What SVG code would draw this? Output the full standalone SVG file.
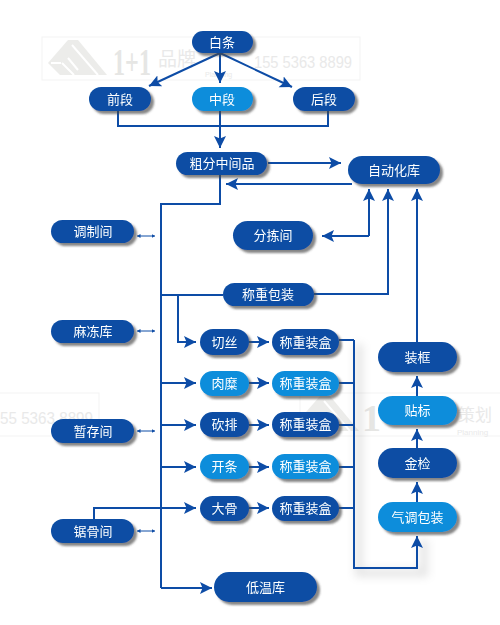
<svg xmlns="http://www.w3.org/2000/svg" width="500" height="625" viewBox="0 0 500 625">
<style>
.n{fill:#0a4ea4}
.l{fill:#0a8ddb}
.t{fill:#fff;font-family:"Noto Sans CJK SC","Liberation Sans",sans-serif;font-size:13px;text-anchor:middle;dominant-baseline:central;transform:translateY(-1px)}
.c{fill:none;stroke:#0d4ca6;stroke-width:2}
.a{marker-end:url(#arr)}
.s{fill:none;stroke:#0d4ca6;stroke-width:1;marker-start:url(#sm);marker-end:url(#sm)}
.wb{fill:none;stroke:#f3f3f3;stroke-width:1}
.wl{fill:#ececea}
.wk{fill:none;stroke:#fff;stroke-width:2}
.wt{fill:#e9e9e9;font-family:"Liberation Sans",sans-serif}
.wc{fill:#e9e9e9;font-family:"Noto Sans CJK SC",sans-serif}
.ws{fill:#e6e6e4;font-family:"Liberation Serif",serif;font-weight:bold}
</style>
<defs>
<marker id="arr" markerUnits="userSpaceOnUse" markerWidth="14" markerHeight="14" refX="12" refY="6" orient="auto">
<path d="M0 0L12 6L0 12L2.5 6Z" fill="#0d4ca6"/>
</marker>
<marker id="sm" markerUnits="userSpaceOnUse" markerWidth="5" markerHeight="5" refX="3.5" refY="2" orient="auto-start-reverse">
<path d="M0 0L3.5 2L0 4Z" fill="#0d4ca6"/>
</marker>
<filter id="sh" x="-20%" y="-30%" width="145%" height="175%">
<feDropShadow dx="3" dy="3" stdDeviation="1.1" flood-color="#444" flood-opacity=".65"/>
</filter>
<filter id="gl" filterUnits="userSpaceOnUse" x="330" y="320" width="130" height="280"><feGaussianBlur stdDeviation="4"/></filter>
<g id="logo">
<path class="wl" d="M0 23L20 0H30L59 35H12Z"/>
<path class="wk" d="M14 23L26 35M24 5L50 35M20 18L30 30M3 23H13"/>
</g>
</defs>
<g id="watermark">
<rect class="wb" x="42" y="37" width="318" height="43"/>
<use href="#logo" x="48" y="40"/>
<text class="ws" x="113" y="75" font-size="38" textLength="38" lengthAdjust="spacingAndGlyphs">1+1</text>
<text class="wc" x="158" y="66" font-size="19">品牌</text>
<text class="wt" x="205" y="77" font-size="7">Planning</text>
<text class="wt" x="254" y="68" font-size="16" textLength="98" lengthAdjust="spacingAndGlyphs">155 5363 8899</text>
<rect class="wb" x="-20" y="393" width="119" height="43"/>
<text class="wt" x="0" y="424" font-size="16" textLength="93" lengthAdjust="spacingAndGlyphs">55 5363 8899</text>
<rect class="wb" x="300" y="393" width="218" height="43"/>
<use href="#logo" x="300" y="396"/>
<text class="ws" x="362" y="431" font-size="38">1</text>
<text class="wc" x="458" y="421" font-size="17">策划</text>
<text class="wt" x="457" y="435" font-size="8">Planning</text>
</g>
<path d="M359 344V573H424V540" fill="none" stroke="#000" stroke-opacity=".1" stroke-width="8" filter="url(#gl)"/>
<g id="connectors">
<path class="c a" d="M220 53L149 86"/>
<path class="c a" d="M220 53V83"/>
<path class="c a" d="M220 53L292 87"/>
<path class="c" d="M118 111V126H328V111"/>
<path class="c a" d="M220 111V148"/>
<path class="c a" d="M268 163H341"/>
<path class="c a" d="M352 184H226"/>
<path class="c" d="M220 175V204H161V588"/>
<path class="c a" d="M161 588H212"/>
<path class="s" d="M137 236H155"/>
<path class="s" d="M137 331H155"/>
<path class="s" d="M137 431H155"/>
<path class="s" d="M137 531H155"/>
<path class="c" d="M161 295H223"/>
<path class="c a" d="M178 295V342H196"/>
<path class="c a" d="M161 383H196"/>
<path class="c a" d="M161 425H196"/>
<path class="c a" d="M161 467H196"/>
<path class="c a" d="M94 519V508H196"/>
<path class="c a" d="M249 342H269"/>
<path class="c a" d="M249 383H269"/>
<path class="c a" d="M249 425H269"/>
<path class="c a" d="M249 467H269"/>
<path class="c a" d="M249 508H269"/>
<path class="c" d="M339 340H354"/>
<path class="c" d="M339 383H354"/>
<path class="c" d="M339 425H354"/>
<path class="c" d="M339 467H354"/>
<path class="c" d="M339 508H354"/>
<path class="c a" d="M354 340V568H417V536"/>
<path class="c a" d="M314 294H388V189"/>
<path class="c a" d="M369 236H322"/>
<path class="c a" d="M369 236V189"/>
<path class="c a" d="M417 342V189"/>
<path class="c a" d="M417 502V482"/>
<path class="c a" d="M417 448V429"/>
<path class="c a" d="M417 396V376"/>
</g>
<g id="n-baitiao" filter="url(#sh)"><rect class="n" x="192" y="31" width="61" height="22" rx="11"/><text class="t" x="222" y="42">白条</text></g>
<g id="n-qianduan" filter="url(#sh)"><rect class="n" x="89" y="87" width="62" height="24" rx="12"/><text class="t" x="120" y="99">前段</text></g>
<g id="n-zhongduan" filter="url(#sh)"><rect class="l" x="192" y="87" width="61" height="24" rx="12"/><text class="t" x="222" y="99">中段</text></g>
<g id="n-houduan" filter="url(#sh)"><rect class="n" x="293" y="87" width="62" height="24" rx="12"/><text class="t" x="324" y="99">后段</text></g>
<g id="n-cufen" filter="url(#sh)"><rect class="n" x="176" y="152" width="91" height="23" rx="11.5"/><text class="t" x="222" y="163.500">粗分中间品</text></g>
<g id="n-zidonghua" filter="url(#sh)"><rect class="n" x="348" y="156" width="92" height="28" rx="14"/><text class="t" x="394" y="170">自动化库</text></g>
<g id="n-tiaozhi" filter="url(#sh)"><rect class="n" x="51" y="220" width="83" height="23" rx="11.5"/><text class="t" x="93" y="231.500">调制间</text></g>
<g id="n-madong" filter="url(#sh)"><rect class="n" x="51" y="320" width="83" height="23" rx="11.5"/><text class="t" x="93" y="331.500">麻冻库</text></g>
<g id="n-zancun" filter="url(#sh)"><rect class="n" x="51" y="419" width="83" height="24" rx="12"/><text class="t" x="93" y="431">暂存间</text></g>
<g id="n-jugu" filter="url(#sh)"><rect class="n" x="51" y="519" width="83" height="24" rx="12"/><text class="t" x="93" y="531">锯骨间</text></g>
<g id="n-fenjian" filter="url(#sh)"><rect class="n" x="233" y="221" width="80" height="29" rx="14.500"/><text class="t" x="273" y="235.500">分拣间</text></g>
<g id="n-baozhuang" filter="url(#sh)"><rect class="n" x="223" y="283" width="91" height="23" rx="11.5"/><text class="t" x="268" y="294.500">称重包装</text></g>
<g id="n-qiesi" filter="url(#sh)"><rect class="n" x="200" y="329" width="49" height="26" rx="13"/><text class="t" x="224.500" y="342">切丝</text></g>
<g id="n-roumi" filter="url(#sh)"><rect class="l" x="200" y="371" width="49" height="25" rx="12.5"/><text class="t" x="224.500" y="383.500">肉糜</text></g>
<g id="n-kanpai" filter="url(#sh)"><rect class="n" x="200" y="412" width="49" height="25" rx="12.5"/><text class="t" x="224.500" y="424.500">砍排</text></g>
<g id="n-kaitiao" filter="url(#sh)"><rect class="l" x="200" y="454" width="49" height="25" rx="12.5"/><text class="t" x="224.500" y="466.500">开条</text></g>
<g id="n-dagu" filter="url(#sh)"><rect class="n" x="200" y="496" width="49" height="25" rx="12.5"/><text class="t" x="224.500" y="508.500">大骨</text></g>
<g id="n-h1" filter="url(#sh)"><rect class="n" x="272" y="329" width="67" height="26" rx="13"/><text class="t" x="305.500" y="342">称重装盒</text></g>
<g id="n-h2" filter="url(#sh)"><rect class="l" x="272" y="371" width="67" height="25" rx="12.5"/><text class="t" x="305.500" y="383.500">称重装盒</text></g>
<g id="n-h3" filter="url(#sh)"><rect class="n" x="272" y="412" width="67" height="25" rx="12.5"/><text class="t" x="305.500" y="424.500">称重装盒</text></g>
<g id="n-h4" filter="url(#sh)"><rect class="l" x="272" y="454" width="67" height="25" rx="12.5"/><text class="t" x="305.500" y="466.500">称重装盒</text></g>
<g id="n-h5" filter="url(#sh)"><rect class="n" x="272" y="496" width="67" height="25" rx="12.5"/><text class="t" x="305.500" y="508.500">称重装盒</text></g>
<g id="n-zhuangkuang" filter="url(#sh)"><rect class="n" x="378" y="342" width="79" height="30" rx="15"/><text class="t" x="417.500" y="357">装框</text></g>
<g id="n-tiebiao" filter="url(#sh)"><rect class="l" x="378" y="396" width="79" height="29" rx="14.500"/><text class="t" x="417.500" y="410.500">贴标</text></g>
<g id="n-jinjian" filter="url(#sh)"><rect class="n" x="378" y="448" width="79" height="30" rx="15"/><text class="t" x="417.500" y="463">金检</text></g>
<g id="n-qitiao" filter="url(#sh)"><rect class="l" x="378" y="502" width="79" height="30" rx="15"/><text class="t" x="417.500" y="517">气调包装</text></g>
<g id="n-diwen" filter="url(#sh)"><rect class="n" x="214" y="572" width="103" height="30" rx="15"/><text class="t" x="265.500" y="587">低温库</text></g>
</svg>
